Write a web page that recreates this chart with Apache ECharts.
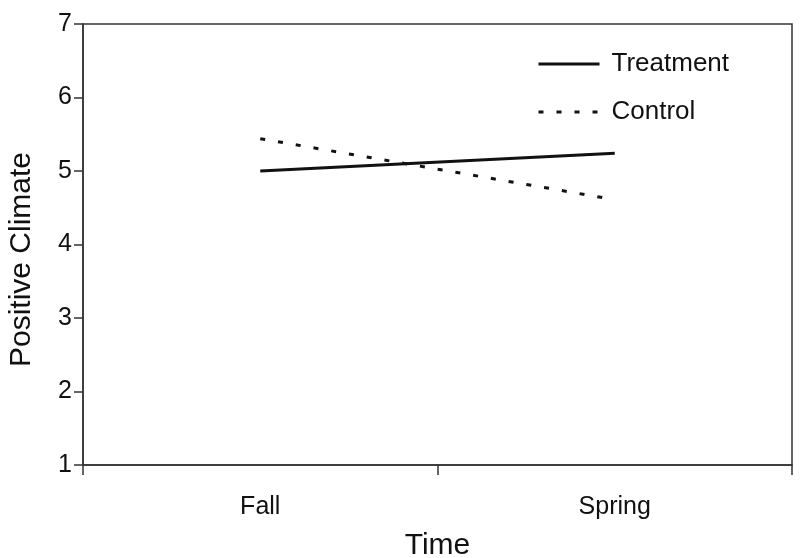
<!DOCTYPE html>
<html><head><meta charset="utf-8">
<script src="https://cdn.jsdelivr.net/npm/echarts@6/dist/echarts.min.js"></script>
<style>html,body{margin:0;padding:0;background:#fff}#c{width:800px;height:558px}</style>
</head><body><div id="c"></div>
<script>
const categories = ['Fall', 'Spring'];
const treatment = [5.0, 5.24];
const control = [5.44, 4.61];
const yTicks = [1, 2, 3, 4, 5, 6, 7];

const chart = echarts.init(document.getElementById('c'), null, {renderer: 'canvas'});
const font = '"Liberation Sans", Arial, sans-serif';
chart.setOption({
  animation: false,
  backgroundColor: '#fff',
  textStyle: {fontFamily: font},
  grid: {left: 83, top: 24, right: 8, bottom: 93, containLabel: false, outerBoundsMode: 'none',
         show: true, borderColor: '#333', borderWidth: 1.5, backgroundColor: 'transparent'},
  legend: {
    orient: 'vertical', left: 532, top: 46, itemWidth: 61, itemHeight: 30, itemGap: 22,
    itemStyle: {opacity: 0},
    lineStyle: {width: 3, color: '#111'},
    textStyle: {fontFamily: font, fontSize: 26, color: '#111', padding: [0, 0, 0, 7]},
    data: ['Treatment', 'Control']
  },
  xAxis: {
    type: 'category', data: categories, boundaryGap: true,
    name: 'Time', nameLocation: 'middle', nameGap: 66,
    nameTextStyle: {fontFamily: font, fontSize: 30, color: '#111'},
    axisLine: {lineStyle: {color: '#333', width: 1.5}},
    axisTick: {show: true, length: 10, alignWithLabel: false, lineStyle: {color: '#333', width: 1.5}},
    axisLabel: {fontFamily: font, fontSize: 25, color: '#111', margin: 30},
    splitLine: {show: false}
  },
  yAxis: {
    type: 'value', min: 1, max: 7, interval: 1,
    name: 'Positive Climate', nameLocation: 'middle', nameGap: 46,
    nameTextStyle: {fontFamily: font, fontSize: 30, color: '#111', padding: [0, 30, 0, 0]},
    axisLine: {show: true, lineStyle: {color: '#333', width: 1.5}},
    axisTick: {show: true, length: 9, lineStyle: {color: '#333', width: 1.5}},
    axisLabel: {fontFamily: font, fontSize: 25, color: '#111', margin: 11,
      formatter: v => yTicks.includes(v) ? String(v) : ''},
    splitLine: {show: false}
  },
  series: [
    {name: 'Treatment', type: 'line', data: treatment, symbol: 'none',
     lineStyle: {color: '#111', width: 3, type: 'solid'}, itemStyle: {color: '#111'}},
    {name: 'Control', type: 'line', data: control, symbol: 'none',
     lineStyle: {color: '#111', width: 3, type: [5, 13]}, itemStyle: {color: '#111'}}
  ]
});
</script></body></html>
